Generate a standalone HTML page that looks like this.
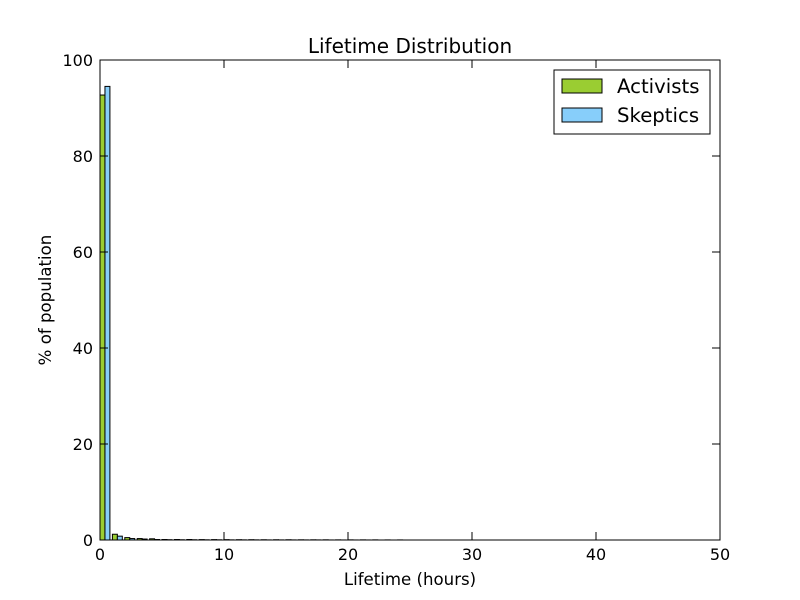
<!DOCTYPE html>
<html><head><meta charset="utf-8"><style>
body{margin:0;background:#fff;}
svg{display:block;font-family:"DejaVu Sans","Liberation Sans",sans-serif;}
</style></head><body>
<svg id="chart" width="800" height="600">
<rect x="0" y="0" width="800" height="600" fill="#fff"/>
<text x="410" y="53" text-anchor="middle" font-size="20">Lifetime Distribution</text>
<g id="bars"></g>
<rect x="100" y="60" width="620" height="480" fill="none" stroke="#000" stroke-width="1"/>
<g id="axes"></g>
<text x="410" y="585" text-anchor="middle" font-size="16.6">Lifetime (hours)</text>
<text transform="translate(51,300) rotate(-90)" text-anchor="middle" font-size="16.6">% of population</text>
<g>
<rect x="554" y="70" width="156" height="64" fill="#fff" stroke="#000"/>
<g>
<rect x="562" y="79" width="40" height="14" fill="#9acd32" stroke="#000"/>
<text x="617" y="93" font-size="19.7">Activists</text></g>
<g>
<rect x="562" y="108" width="40" height="14" fill="#87cefa" stroke="#000"/>
<text x="617" y="122" font-size="19.7">Skeptics</text></g>
</g>
</svg>
<script>
const bins = [0,1,2,3,4,5,6,7,8,9,10,11,12,13,14,15,16,17,18,19,20,21,22,23,24];
const activists = [92.7,1.2,0.5,0.3,0.25,0.1,0.1,0.1,0.08,0.08,0.07,0.06,0.06,0.05,0.05,0.05,0.04,0.04,0.04,0.03,0.03,0.03,0.03,0.02,0.02];
const skeptics = [94.5,0.8,0.3,0.2,0.1,0.06,0.05,0.05,0.04,0.04,0.03,0.03,0.03,0.02,0.02,0.02,0.02,0.02,0.01,0.01,0.01,0.01,0,0,0];
const xTicks = [0,10,20,30,40,50];
const yTicks = [0,20,40,60,80,100];
const ns="http://www.w3.org/2000/svg";
const X=v=>100+v*620/50, Y=v=>540-v*480/100;
const bg=document.getElementById('bars'), ag=document.getElementById('axes');
function mk(t,a,p){const e=document.createElementNS(ns,t);for(const k in a)e.setAttribute(k,a[k]);p.appendChild(e);return e;}
bins.forEach((b,i)=>{
 [[activists,'#9acd32',0],[skeptics,'#87cefa',0.4]].forEach(([arr,c,off],j)=>{
  const v=arr[i]; if(v<=0) return;
  const r=mk('rect',{x:X(b+off),y:Y(v),width:X(0.4)-X(0),height:Y(0)-Y(v),fill:c,stroke:'#000','stroke-width':1},bg);
  
  
 });
});
xTicks.forEach(t=>{
 mk('line',{x1:X(t),x2:X(t),y1:540,y2:532,stroke:'#000'},ag);
 mk('line',{x1:X(t),x2:X(t),y1:60,y2:68,stroke:'#000'},ag);
 const tx=mk('text',{x:X(t),y:560,'text-anchor':'middle','font-size':16},ag);tx.textContent=t;
 
 
});
yTicks.forEach(t=>{
 mk('line',{x1:100,x2:108,y1:Y(t),y2:Y(t),stroke:'#000'},ag);
 mk('line',{x1:720,x2:712,y1:Y(t),y2:Y(t),stroke:'#000'},ag);
 const tx=mk('text',{x:93,y:Y(t)+6,'text-anchor':'end','font-size':16},ag);tx.textContent=t;
 
 
});
</script>
</body></html>
